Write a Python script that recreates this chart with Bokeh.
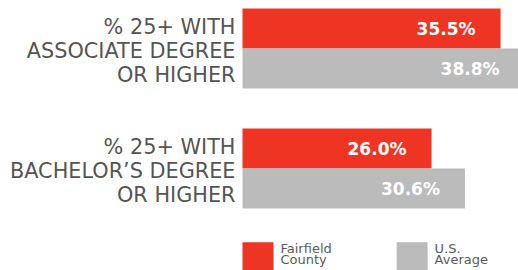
from bokeh.plotting import figure
from bokeh.models import Range1d
from bokeh.core.properties import value
from bokeh.embed import file_html
from bokeh.resources import INLINE

# ---- data ----
categories = [
    ["% 25+ WITH", "ASSOCIATE DEGREE", "OR HIGHER"],
    ["% 25+ WITH", "BACHELOR\u2019S DEGREE", "OR HIGHER"],
]
fairfield = [35.5, 26.0]
us_average = [38.8, 30.6]
series_names = ["Fairfield\nCounty", "U.S.\nAverage"]

RED = "#EE3524"
GRAY = "#BBBBBB"
TEXT = "#555555"
FONT = "DejaVu Sans"

W, H = 518, 270
PX_PER_UNIT = 7.27
X0 = 242   # px of value 0
Y0 = 8     # px of first bar top

p = figure(width=W, height=H, output_backend="svg", toolbar_location=None,
           x_range=Range1d(-X0 / PX_PER_UNIT, (W - X0) / PX_PER_UNIT),
           y_range=Range1d(H, 0), min_border=0, outline_line_color=None)
p.axis.visible = False
p.grid.visible = False
p.background_fill_color = "white"
p.border_fill_color = "white"

GROUP = 120
BAR_H = 40

# bars
red_y = [Y0 + i * GROUP + BAR_H / 2 for i in range(len(fairfield))]
gray_y = [Y0 + i * GROUP + BAR_H * 1.5 for i in range(len(us_average))]
p.hbar(y=red_y, right=fairfield, left=0, height=BAR_H, color=RED, line_color=None)
p.hbar(y=gray_y, right=us_average, left=0, height=BAR_H, color=GRAY, line_color=None)

# value labels
OFF = -25 / PX_PER_UNIT
p.text(x=[v + OFF for v in fairfield], y=red_y, text=[f"{v:.1f}%" for v in fairfield],
       text_align="right", text_baseline="middle", text_color="white",
       text_font=value(FONT), text_font_style="bold", text_font_size="17px")
p.text(x=[v + OFF for v in us_average], y=gray_y, text=[f"{v:.1f}%" for v in us_average],
       text_align="right", text_baseline="middle", text_color="white",
       text_font=value(FONT), text_font_style="bold", text_font_size="17px")

# category labels
lx, ly, lt = [], [], []
for i, lines in enumerate(categories):
    center = Y0 + i * GROUP + BAR_H + 2.5
    for j, line in enumerate(lines):
        lx.append(-7 / PX_PER_UNIT)
        ly.append(center + (j - 1) * 24.3)
        lt.append(line)
p.text(x=lx, y=ly, text=lt, text_align="right", text_baseline="middle",
       text_color=TEXT, text_font=value(FONT), text_font_size="20.8px")

# legend
leg_left = [0.0, 21.2]
leg_colors = [RED, GRAY]
p.quad(left=leg_left, right=[l + 31 / PX_PER_UNIT for l in leg_left],
       top=[241.7] * 2, bottom=[272] * 2, color=leg_colors, line_color=None)
tx, ty, tt = [], [], []
for l, name in zip(leg_left, series_names):
    for j, line in enumerate(name.split("\n")):
        tx.append(l + 38 / PX_PER_UNIT)
        ty.append(247.7 + j * 11.5)
        tt.append(line)
p.text(x=tx, y=ty, text=tt, text_align="left", text_baseline="middle",
       text_color="#5A5A5A", text_font=value(FONT), text_font_size="13px")

open("out.html", "w").write(file_html(p, INLINE))
